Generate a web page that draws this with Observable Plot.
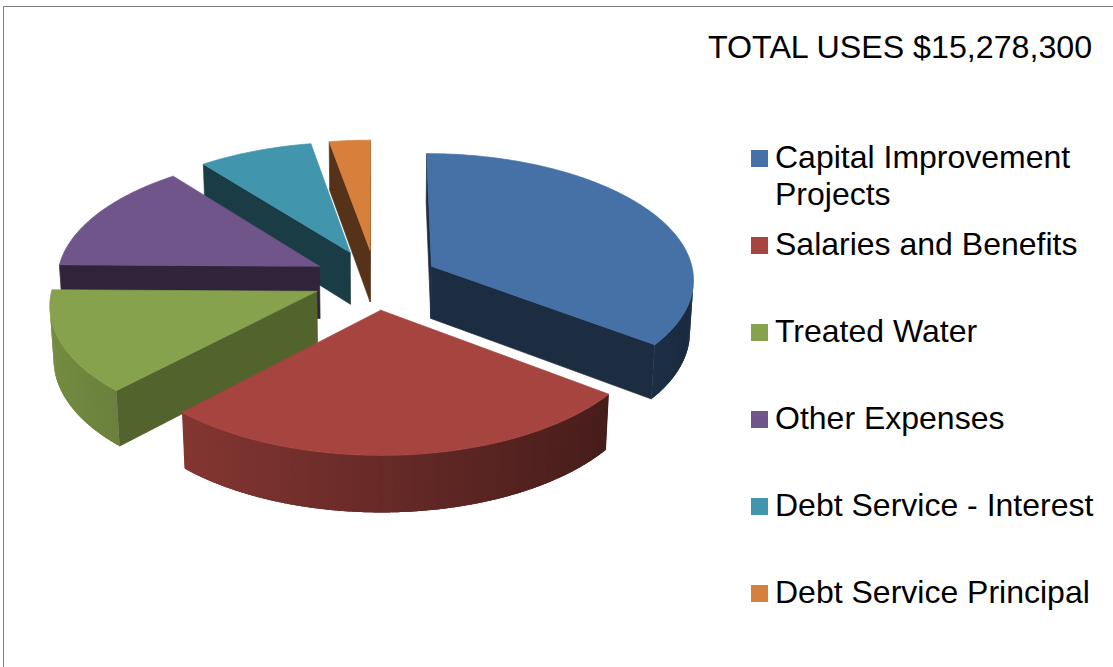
<!DOCTYPE html>
<html><head><meta charset="utf-8">
<script src="https://cdn.jsdelivr.net/npm/d3@7"></script>
<script src="https://cdn.jsdelivr.net/npm/@observablehq/plot@0.6"></script>
<style>
html,body{margin:0;padding:0;background:#fff;overflow:hidden;}
#wrap{position:relative;width:1113px;height:667px;overflow:hidden;font-family:"Liberation Sans",Arial,sans-serif;color:#000;}
#frame{position:absolute;left:3px;top:6px;width:1200px;height:800px;border-top:1px solid #808080;border-left:1px solid #808080;}
#chart{position:absolute;left:0;top:0;}
.title{position:absolute;left:708px;font-size:32.2px;line-height:37px;white-space:nowrap;}
.item{position:absolute;left:751px;width:350px;font-size:32px;line-height:37px;}
.sw{position:absolute;left:0;width:17px;height:17px;}
.lab{position:absolute;left:24px;width:324px;}
</style></head><body>
<div id="wrap"><div id="frame"></div><div id="chart"></div></div>
<script>
// ---- data ----
const categories = ["Capital Improvement Projects", "Salaries and Benefits", "Treated Water", "Other Expenses", "Debt Service - Interest", "Debt Service Principal"];
const amounts = [5393000, 4094300, 2001000, 2170000, 1192000, 428000];
const palette = ["#4571A6", "#A6443F", "#87A24C", "#70558A", "#4195AD", "#D6803B"];
const titleLabel = "TOTAL USES";

// ---- layout / view ----
const W = 1113, H = 667, cx = 375, cy = 279, S = 263;
const phi = 28.5 * Math.PI / 180, D = 9.4, thick = 0.23, explode = 0.24;
const sp = Math.sin(phi), cp = Math.cos(phi);
const cam = [0, D * sp, D * cp];
const deg = Math.PI / 180;

function proj(X, Y, Z) {
  const up = Y * cp - Z * sp, d = Y * sp + Z * cp, k = D / (D - d);
  return {u: X * k, v: up * k};
}
function shade(c, f) {
  const r = d3.rgb(c);
  return d3.rgb(r.r * f, r.g * f, r.b * f).formatHex();
}
const wallShade = t => Math.max(0.3, Math.min(0.95, 0.62 - 0.25 * Math.sin(t)));
const cutShade = psi => 0.4 + 0.21 * Math.pow(Math.max(0, Math.cos(psi - 134 * deg)), 6);

const total = d3.sum(amounts);
const arcs = d3.pie().sort(null).value(d => d)(amounts);
const slices = arcs.map((a, i) => {
  const m = (a.startAngle + a.endAngle) / 2;
  return {i, a0: a.startAngle, a1: a.endAngle, ox: explode * Math.sin(m), oz: -explode * Math.cos(m)};
});
const order = slices.slice().sort((p, q) => p.oz - q.oz);

const faces = [];
let fid = 0;
function addFace(pts3, color, outline) {
  const id = fid++;
  const pts = pts3.concat([pts3[0]]);
  for (const [X, Y, Z] of pts) {
    const p = proj(X, Y, Z);
    faces.push({id, u: p.u, v: p.v, color, line: outline ? color : "none"});
  }
}
function visible(psi, P) {
  const n = [Math.sin(psi), 0, -Math.cos(psi)];
  return n[0] * (cam[0] - P[0]) + n[2] * (cam[2] - P[2]) > 0;
}

for (const s of order) {
  const base = palette[s.i];
  const rim = (t, Y) => [s.ox + Math.sin(t), Y, s.oz - Math.cos(t)];
  const apexT = [s.ox, 0, s.oz], apexB = [s.ox, -thick, s.oz];
  // cut faces
  for (const [t, psi] of [[s.a0, s.a0 - Math.PI / 2], [s.a1, s.a1 + Math.PI / 2]]) {
    if (visible(psi, apexT)) addFace([apexT, rim(t, 0), rim(t, -thick), apexB], shade(base, cutShade(psi)), true);
  }
  // outer wall (overlapping strips, no outline -> no seams)
  const n = Math.ceil((s.a1 - s.a0) / (0.6 * deg));
  const ext = 0.45 * deg;
  for (let j = 0; j < n; j++) {
    const t0 = s.a0 + (s.a1 - s.a0) * j / n, t1 = s.a0 + (s.a1 - s.a0) * (j + 1) / n, tm = (t0 + t1) / 2;
    if (!visible(tm, rim(tm, 0))) continue;
    const e0 = Math.max(s.a0, t0 - ext), e1 = Math.min(s.a1, t1 + ext);
    const pts = [];
    const m = 3;
    for (let k = 0; k <= m; k++) pts.push(rim(e0 + (e1 - e0) * k / m, 0));
    for (let k = m; k >= 0; k--) pts.push(rim(e0 + (e1 - e0) * k / m, -thick));
    addFace(pts, shade(base, wallShade(tm)), false);
  }
  // top face
  const top = [apexT];
  const nt = Math.ceil((s.a1 - s.a0) / (1 * deg));
  for (let j = 0; j <= nt; j++) top.push(rim(s.a0 + (s.a1 - s.a0) * j / nt, 0));
  addFace(top, base, true);
}

const chart = Plot.plot({
  width: W, height: H, margin: 0,
  x: {domain: [-cx / S, (W - cx) / S], range: [0, W], axis: null},
  y: {domain: [-(H - cy) / S, cy / S], range: [H, 0], axis: null},
  color: {type: "identity"},
  style: {background: "transparent"},
  marks: [
    Plot.line(faces, {x: "u", y: "v", z: "id", fill: "color", stroke: "line", strokeWidth: 0.7, strokeLinejoin: "round", curve: "linear"})
  ]
});
document.getElementById("chart").appendChild(chart);

// ---- title + legend (HTML) ----
const wrap = document.getElementById("wrap");
const baselineOff = 29.5;
const title = document.createElement("div");
title.className = "title";
title.style.top = (58 - baselineOff) + "px";
title.textContent = `${titleLabel} ${d3.format("$,")(total)}`;
wrap.appendChild(title);
categories.forEach((c, i) => {
  const bl = 168 + 87 * i;
  const item = document.createElement("div");
  item.className = "item";
  item.style.top = (bl - baselineOff) + "px";
  const sw = document.createElement("div");
  sw.className = "sw";
  sw.style.background = palette[i];
  sw.style.top = (baselineOff - 18) + "px";
  const lab = document.createElement("div");
  lab.className = "lab";
  lab.textContent = c;
  item.appendChild(sw); item.appendChild(lab);
  wrap.appendChild(item);
});
</script>
</body></html>
